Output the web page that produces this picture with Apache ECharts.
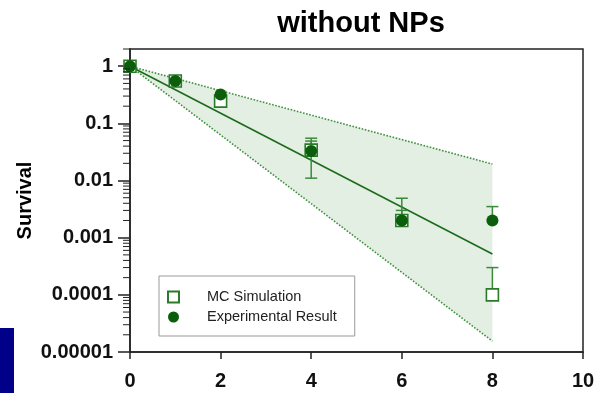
<!DOCTYPE html>
<html>
<head>
<meta charset="utf-8">
<script src="https://cdn.jsdelivr.net/npm/echarts@6/dist/echarts.min.js"></script>
<style>html,body{margin:0;padding:0;background:#fff}#c{width:598px;height:393px}</style>
</head>
<body>
<div id="c"></div>
<script>
// ---- data ----
const doses = [0, 1, 2, 4, 6, 8];
const mcValues = [1, 0.55, 0.245, 0.034, 0.002, 0.0001];
const mcLow    = [1, 0.55, 0.2, 0.011, 0.002, 0.0001];
const mcHigh   = [1, 0.55, 0.245, 0.055, 0.0049, 0.0003];
const expValues = [1, 0.55, 0.32, 0.033, 0.002, 0.002];
const expLow    = [1, 0.55, 0.32, 0.033, 0.002, 0.002];
const expHigh   = [1, 0.55, 0.32, 0.049, 0.003, 0.0035];
const fitX = [0, 8];
const fitY = [1, 0.00052];
const bandUpper = [1, 0.0194];
const bandLower = [1, 0.0000155];
const yTickValues = [0.00001, 0.0001, 0.001, 0.01, 0.1, 1];
const yTickLabels = ['0.00001', '0.0001', '0.001', '0.01', '0.1', '1'];
const minorMultipliers = [2, 3, 4, 5, 6, 7, 8, 9];
const xTicks = [0, 2, 4, 6, 8, 10];

const minorTickValues = [];
for (let i = 0; i < yTickValues.length; i++) {
  for (const m of minorMultipliers) {
    const v = yTickValues[i] * m;
    if (v <= 2) minorTickValues.push(v);
  }
}

const GREEN = '#0b5e0b';
const SQ = '#2a7a2a';
const LINE = '#1c6b1c';
const ERR = '#3a8a3a';
const FONT = '"Liberation Sans", Arial, sans-serif';

const chart = echarts.init(document.getElementById('c'), null, {renderer: 'canvas'});

function errRows(vals, lo, hi) {
  return doses.map((d, i) => [d, lo[i], hi[i], vals[i]]);
}
function renderErr(params, api) {
  const x = api.value(0), lo = api.value(1), hi = api.value(2), mean = api.value(3);
  if (lo === hi) return null;
  const pLo = api.coord([x, lo]), pHi = api.coord([x, hi]);
  const children = [{type: 'line', shape: {x1: pLo[0], y1: pLo[1], x2: pHi[0], y2: pHi[1]}, style: {stroke: ERR, lineWidth: 1.5}}];
  if (hi !== mean) children.push({type: 'line', shape: {x1: pHi[0] - 6, y1: pHi[1], x2: pHi[0] + 6, y2: pHi[1]}, style: {stroke: ERR, lineWidth: 1.5}});
  if (lo !== mean) children.push({type: 'line', shape: {x1: pLo[0] - 6, y1: pLo[1], x2: pLo[0] + 6, y2: pLo[1]}, style: {stroke: ERR, lineWidth: 1.5}});
  return {type: 'group', children};
}

const option = {
  animation: false,
  backgroundColor: '#fff',
  title: {
    text: 'without NPs', left: 356, top: 4, textAlign: 'center',
    textStyle: {fontFamily: FONT, fontWeight: 'bold', fontSize: 29, color: '#000'}
  },
  grid: {left: 130, right: 15, top: 49, bottom: 41, show: true, borderColor: '#222', borderWidth: 1.5, backgroundColor: 'transparent'},
  legend: {
    data: ['MC Simulation', 'Experimental Result'],
    orient: 'vertical', left: 159, top: 276,
    padding: [13, 18, 11, 8], itemGap: 4, itemWidth: 11, itemHeight: 11,
    backgroundColor: '#fff', borderColor: '#999', borderWidth: 1, borderRadius: 0,
    textStyle: {fontFamily: FONT, fontSize: 14.5, color: '#222', lineHeight: 16, padding: [0, 0, 0, 23]}
  },
  xAxis: {
    type: 'value', min: 0, max: 10, interval: 2,
    axisLine: {show: true, lineStyle: {color: '#222', width: 1.5}},
    axisTick: {show: true, length: 7, lineStyle: {color: '#222', width: 1.5}},
    axisLabel: {margin: 19, fontFamily: FONT, fontWeight: 'bold', fontSize: 20, color: '#111'},
    splitLine: {show: false}
  },
  yAxis: {
    type: 'log', logBase: 10, min: 0.00001, max: 2,
    name: 'Survival', nameLocation: 'middle', nameGap: 95, nameRotate: 90, nameMoveOverlap: false,
    nameTextStyle: {fontFamily: FONT, fontWeight: 'bold', fontSize: 20, color: '#000'},
    axisLine: {show: true, lineStyle: {color: '#222', width: 1.5}},
    axisTick: {show: true, length: 12, customValues: yTickValues, lineStyle: {color: '#222', width: 1.5}},
    axisLabel: {margin: 17, customValues: yTickValues, fontFamily: FONT, fontWeight: 'bold', fontSize: 20, color: '#111',
      formatter: function (v) { const i = yTickValues.findIndex(t => Math.abs(Math.log10(t) - Math.log10(v)) < 1e-6); return i >= 0 ? yTickLabels[i] : ''; }},
    splitLine: {show: false}
  },
  graphic: [{type: 'rect', left: 0, top: 328, shape: {width: 14, height: 65}, style: {fill: '#000088'}, z: 100}],
  series: [
    {
      type: 'custom', silent: true, z: 1, clip: false,
      data: fitX.map((x, i) => [x, bandUpper[i], bandLower[i]]),
      renderItem: function (params, api) {
        if (params.dataIndex !== 0) return null;
        const pts = [];
        for (let i = 0; i < fitX.length; i++) pts.push(api.coord([fitX[i], bandUpper[i]]));
        for (let i = fitX.length - 1; i >= 0; i--) pts.push(api.coord([fitX[i], bandLower[i]]));
        return {type: 'polygon', shape: {points: pts}, style: {fill: '#e3efe3'}};
      },
      encode: {x: 0, y: [1, 2]}
    },
    {
      type: 'custom', silent: true, z: 10, clip: false,
      data: minorTickValues.map(v => [0, v]),
      renderItem: function (params, api) {
        const p = api.coord([0, api.value(1)]);
        return {type: 'line', shape: {x1: p[0] - 7, y1: p[1], x2: p[0], y2: p[1]}, style: {stroke: '#222', lineWidth: 1}};
      },
      encode: {x: 0, y: 1}
    },
    {type: 'line', z: 2, symbol: 'none', data: fitX.map((x, i) => [x, bandUpper[i]]), lineStyle: {color: '#3f913f', width: 1.6, type: 'dotted'}},
    {type: 'line', z: 2, symbol: 'none', data: fitX.map((x, i) => [x, bandLower[i]]), lineStyle: {color: '#3f913f', width: 1.6, type: 'dotted'}},
    {type: 'line', z: 3, symbol: 'none', data: fitX.map((x, i) => [x, fitY[i]]), lineStyle: {color: LINE, width: 1.6}},
    {type: 'custom', z: 4, data: errRows(mcValues, mcLow, mcHigh), renderItem: renderErr, encode: {x: 0, y: [1, 2]}},
    {type: 'custom', z: 4, data: errRows(expValues, expLow, expHigh), renderItem: renderErr, encode: {x: 0, y: [1, 2]}},
    {
      name: 'MC Simulation', type: 'scatter', z: 5, symbol: 'rect', symbolSize: 12,
      data: doses.map((d, i) => [d, mcValues[i]]),
      itemStyle: {color: '#fff', borderColor: SQ, borderWidth: 1.6, opacity: 1}
    },
    {
      name: 'Experimental Result', type: 'scatter', z: 6, symbol: 'circle', symbolSize: 12,
      data: doses.map((d, i) => [d, expValues[i]]),
      itemStyle: {color: GREEN, opacity: 1}
    }
  ]
};
chart.setOption(option);
</script>
</body>
</html>
